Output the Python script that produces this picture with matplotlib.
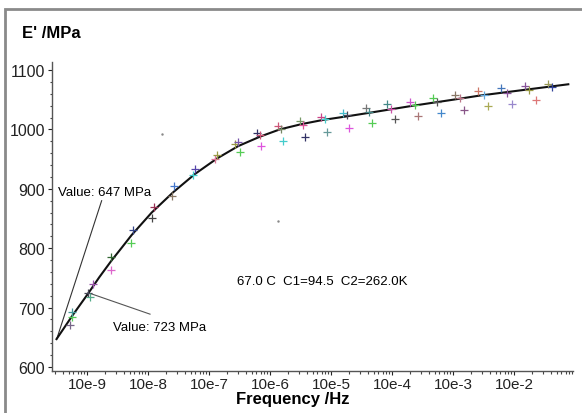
import matplotlib.pyplot as plt
import numpy as np
from matplotlib.patches import Rectangle
from matplotlib.ticker import FixedLocator, MultipleLocator, LogLocator, NullFormatter

plt.rcParams['font.family'] = ['Liberation Sans', 'DejaVu Sans']

# fitted master curve (log10 frequency, modulus in MPa)
curve_logf = [-9.50, -9.23, -8.98, -8.80, -8.60, -8.43, -8.27, -7.94, -7.59,
              -7.23, -6.87, -6.52, -6.16, -5.84, -5.48, -5.13, -4.74, -4.37,
              -3.65, -3.00, -2.56, -1.80, -1.11]
curve_mod = [647, 688, 724, 751, 779, 801, 822, 860, 894,
             925, 951, 972, 988, 1000, 1009, 1016, 1022, 1028,
             1040, 1050, 1057, 1067, 1076]

# measured points
pts_logf = [-9.28, -9.25, -9.24, -8.98, -8.95, -8.91, -8.61, -8.60, -8.28, -8.25,
            -7.94, -7.91, -7.60, -7.57, -7.26, -7.23, -6.90, -6.87, -6.57, -6.52,
            -6.50, -6.22, -6.16, -6.15, -5.87, -5.82, -5.79, -5.51, -5.46, -5.43,
            -5.17, -5.10, -5.06, -4.80, -4.73, -4.70, -4.43, -4.37, -4.32, -4.08,
            -4.01, -3.95, -3.71, -3.63, -3.58, -3.33, -3.27, -3.19, -2.96, -2.89,
            -2.82, -2.59, -2.50, -2.43, -2.21, -2.12, -2.04, -1.82, -1.75, -1.64,
            -1.44, -1.37]
pts_mod = [670, 684, 693, 725, 718, 739, 764, 785, 809, 831,
           851, 870, 888, 904, 924, 934, 951, 957, 976, 979,
           962, 994, 991, 972, 1006, 1001, 981, 1014, 1008, 988,
           1021, 1017, 995, 1028, 1024, 1003, 1036, 1029, 1010, 1042,
           1035, 1017, 1046, 1041, 1022, 1053, 1047, 1027, 1058, 1053,
           1033, 1064, 1058, 1039, 1069, 1062, 1043, 1073, 1067, 1050,
           1077, 1071]
pts_col = ['#776688', '#55cc55', '#449999', '#444455', '#55aa88', '#9955aa',
           '#dd66cc', '#336633', '#55cc55', '#334488', '#444444', '#993355',
           '#887766', '#4477cc', '#44cccc', '#5544aa', '#dd7799', '#999944',
           '#999944', '#7755aa', '#55cc55', '#333366', '#cc5577', '#dd55dd',
           '#cc5577', '#778866', '#44cccc', '#779966', '#dd5599', '#333366',
           '#cc4488', '#44cccc', '#669999', '#44bbcc', '#444455', '#dd55dd',
           '#777777', '#448888', '#55cc55', '#448888', '#cc55aa', '#555555',
           '#cc55cc', '#55cc55', '#aa7777', '#55cc55', '#555555', '#4488cc',
           '#887766', '#bb7788', '#885588', '#cc7766', '#66aadd', '#aaaa55',
           '#4477bb', '#885599', '#9988cc', '#885599', '#999944', '#dd7777',
           '#999955', '#334499']

# stray dots on the plot
dot_logf = [-7.77, -5.87]
dot_mod = [993, 846]

ticks_logf = [-9, -8, -7, -6, -5, -4, -3, -2]
y_ticks = [600, 700, 800, 900, 1000, 1100]

fig = plt.figure(figsize=(5.82, 4.14), dpi=100)
ax = fig.add_axes([52 / 582, 1 - 372 / 414, (573 - 52) / 582, (372 - 63) / 414])

# outer gray frame (top and left edges visible)
fig.patches.append(Rectangle((5 / 582, -0.1), 1.2, 1 - 10 / 414 + 0.1,
                             transform=fig.transFigure, fill=False,
                             edgecolor='#8a8a8a', linewidth=2))

fx = 10.0 ** np.array(curve_logf)
ax.plot(fx, curve_mod, color='#111111', lw=1.5, zorder=3, solid_joinstyle='round')

for lf, m, c in zip(pts_logf, pts_mod, pts_col):
    ax.plot(10.0 ** lf, m, marker='+', ms=5.5, mew=0.9, color=c, ls='none', zorder=4)

ax.plot(10.0 ** np.array(dot_logf), dot_mod, marker='.', ms=1.5, color='#888888',
        ls='none')

# annotations
ax.plot([10 ** -9.497, 10 ** -8.76], [647, 880], color='#333333', lw=0.8)
ax.text(10 ** -9.475, 895, 'Value: 647 MPa', fontsize=9.5, va='center', ha='left')
ax.plot([10 ** -8.979, 10 ** -7.967], [725, 689], color='#555555', lw=0.8)
ax.text(10 ** -8.574, 667, 'Value: 723 MPa', fontsize=9.5, va='center', ha='left')
ax.text(10 ** -6.541, 745, '67.0 C  C1=94.5  C2=262.0K', fontsize=9.5,
        va='center', ha='left')

ax.set_xscale('log')
ax.set_xlim(10 ** -9.574, 10 ** -1.033)
ax.set_ylim(593.3, 1113.5)

ax.xaxis.set_major_locator(FixedLocator([10.0 ** k for k in ticks_logf]))
ax.set_xticklabels(['10e%d' % k for k in ticks_logf])
ax.xaxis.set_minor_locator(LogLocator(base=10, subs=np.arange(2, 10), numticks=20))
ax.xaxis.set_minor_formatter(NullFormatter())
ax.set_yticks(y_ticks)
ax.yaxis.set_minor_locator(MultipleLocator(20))

ax.tick_params(axis='both', which='major', direction='out', length=3, width=0.8,
               labelsize=11.5, pad=2, colors='#222222')
ax.tick_params(axis='both', which='minor', direction='out', length=1.8, width=0.8,
               colors='#444444')
ax.tick_params(axis='x', labelsize=11, pad=1)

for s in ['top', 'right']:
    ax.spines[s].set_visible(False)
for s in ['left', 'bottom']:
    ax.spines[s].set_color('#555555')
    ax.spines[s].set_linewidth(1.0)

fig.text(22 / 582, 1 - 33 / 414, "E' /MPa", fontsize=12, fontweight='bold',
         ha='left', va='center')
fig.text(293 / 582, 1 - 400 / 414, 'Frequency /Hz', fontsize=12, fontweight='bold',
         ha='center', va='center')

fig.savefig('out.png', dpi=100)
